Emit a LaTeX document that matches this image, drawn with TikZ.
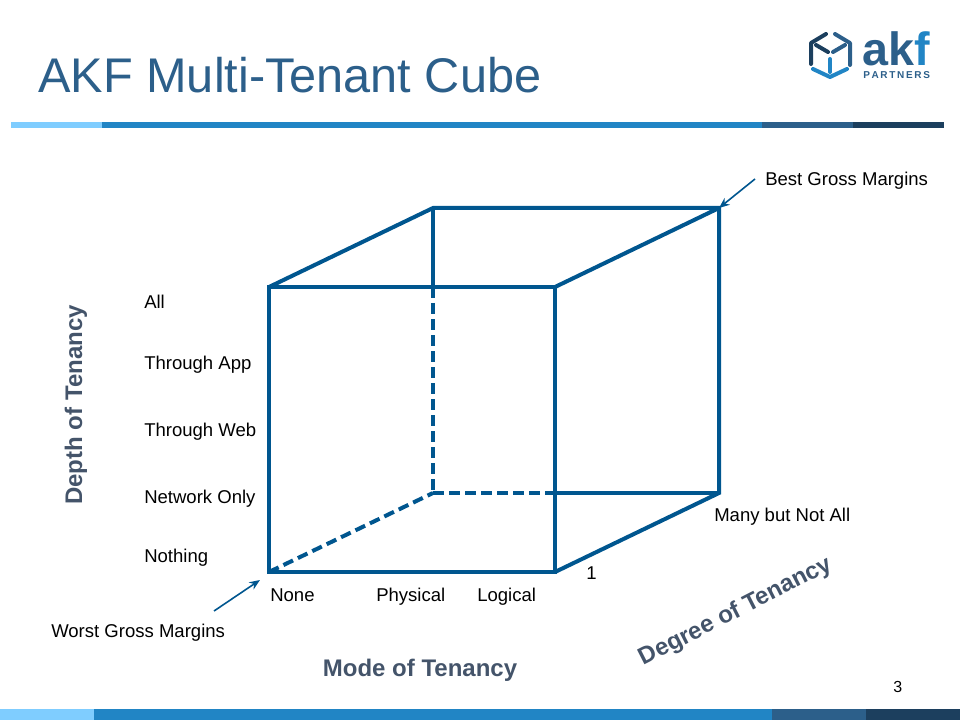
\documentclass[tikz,border=0pt]{standalone}
\usepackage{fontspec}
\usetikzlibrary{arrows.meta}
\setmainfont{Liberation Sans}
\definecolor{barlight}{HTML}{7FCDFF}
\definecolor{barmid}{HTML}{2185C5}
\definecolor{bardark}{HTML}{2C5F8A}
\definecolor{barnavy}{HTML}{1C3F5E}
\definecolor{cubeblue}{HTML}{00568F}
\definecolor{axisgray}{HTML}{44546A}
\begin{document}
\begin{tikzpicture}[x=0.75pt, y=-0.75pt,
    level/.style ={anchor=west, inner sep=0pt, font=\fontsize{13.9}{16}\selectfont},
    axislabel/.style ={inner sep=0pt, text=axisgray, font=\fontsize{18}{20}\selectfont\bfseries},
    cube/.style ={cubeblue, line width=3pt},
    hidden/.style ={cubeblue, line width=3pt, dash pattern=on 8pt off 4pt},
    pointer/.style ={cubeblue, line width=1.2pt, -{Stealth[length=8pt, width=6.5pt]}}]
   \useasboundingbox (0,0) rectangle (960,720);
   % bars
   \fill[barlight] (11,122) rectangle (102,128);
   \fill[barmid] (102,122) rectangle (762,128);
   \fill[bardark] (762,122) rectangle (853,128);
   \fill[barnavy] (853,122) rectangle (944,128);
   \fill[barlight] (0,709) rectangle (94,720);
   \fill[barmid] (94,709) rectangle (772,720);
   \fill[bardark] (772,709) rectangle (866,720);
   \fill[barnavy] (866,709) rectangle (960,720);
   \node[anchor=west, inner sep=0pt, text=bardark, font=\fontsize{36.5}{40}\selectfont] (title) at (38,75) {AKF Multi-Tenant Cube};
   % logo
   \draw[barnavy, line width=3pt, line cap=round, line join=round] (826,34) -- (811,43) -- (811,64);
   \draw[bardark, line width=3pt, line cap=round, line join=round] (835,34) -- (850,43) -- (850,65);
   \draw[barnavy, line width=3pt, line cap=round] (816,45) -- (828,52);
   \draw[bardark, line width=3pt, line cap=round] (845,45) -- (833,52);
   \draw[barmid, line width=3pt, line cap=round, line join=round] (847,69) -- (830,77) -- (813,69);
   \draw[barmid, line width=3pt, line cap=round] (830,59) -- (830,72);
   \node[anchor=base west, inner sep=0pt, text=bardark, font=\fontsize{35}{35}\selectfont\bfseries] (logoak) at (862,66) {ak};
   \node[anchor=base west, inner sep=0pt, text=barmid, font=\fontsize{35}{35}\selectfont\bfseries] (logof) at (logoak.base east) {f};
   \node[anchor=base west, inner sep=0pt, text=bardark, font=\fontsize{7.5}{8}\selectfont\bfseries] (logosub) at (863,79) {P\,A\,R\,T\,N\,E\,R\,S};
   % cube
   \coordinate (A) at (269,572);
   \coordinate (B) at (269,287);
   \coordinate (C) at (555,287);
   \coordinate (D) at (555,572);
   \coordinate (E) at (433,493);
   \coordinate (F) at (433,208);
   \coordinate (G) at (719,208);
   \coordinate (H) at (719,493);
   \coordinate (I) at (433,287);
   \coordinate (J) at (555,493);
   \draw[cube, line join=miter] (A) -- (B) -- (C) -- (D) -- cycle;
   \draw[cube, line join=miter] (B) -- (F) -- (G) -- (H) -- (D);
   \draw[cube] (C) -- (G);
   \draw[cube] (F) -- (I);
   \draw[cube] (J) -- (H);
   \draw[hidden] (I) -- (E);
   \draw[hidden] (E) -- (J);
   \draw[hidden] (A) -- (E);
   % levels
   \node[level] (all) at (144,302) {All};
   \node[level] (app) at (144,365) {Through App};
   \node[level] (web) at (144,432) {Through Web};
   \node[level] (net) at (144,499) {Network Only};
   \node[level] (nothing) at (144,558) {Nothing};
   \node[level] (none) at (270,595) {None};
   \node[level] (physical) at (376,597) {Physical};
   \node[level] (logical) at (477,597) {Logical};
   \node[level] (one) at (586,573) {1};
   \node[level] (many) at (714,517) {Many but Not All};
   \node[level] (best) at (765,181) {Best Gross Margins};
   \node[level] (worst) at (51,633) {Worst Gross Margins};
   \node[level, font=\fontsize{12}{14}\selectfont] (page) at (893,687) {3};
   % axes
   \node[axislabel] (mode) at (420,670) {Mode of Tenancy};
   \node[axislabel, rotate=90] (depth) at (76,405) {Depth of Tenancy};
   \node[axislabel, rotate=27] (degree) at (736,612) {Degree of Tenancy};
   % pointers
   \coordinate (bestfrom) at (755,179);
   \coordinate (worstfrom) at (214,611);
   \coordinate (worstto) at (260,580);
   \draw[pointer] (bestfrom) -- (G);
   \draw[pointer] (worstfrom) -- (worstto);
\end{tikzpicture}
\end{document}
